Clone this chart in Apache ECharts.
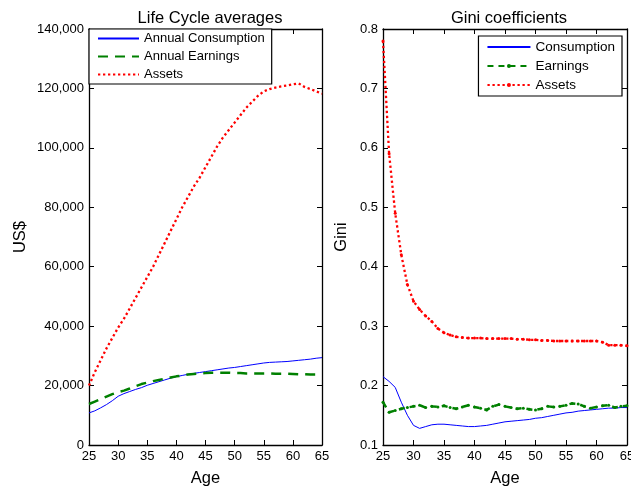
<!DOCTYPE html>
<html><head><meta charset="utf-8">
<script src="https://cdn.jsdelivr.net/npm/echarts@6/dist/echarts.min.js"></script>
<style>html,body{margin:0;padding:0;background:#fff}#c{width:631px;height:486px}</style>
</head><body><div id="c"></div>
<script>
const ages = [25,26,27,28,29,30,31,32,33,34,35,36,37,38,39,40,41,42,43,44,45,46,47,48,49,50,51,52,53,54,55,56,57,58,59,60,61,62,63,64,65];
const consumption = [10800,11500,12500,13600,14900,16400,17300,18000,18700,19300,20100,20700,21300,21900,22500,23000,23400,23800,24100,24400,24700,25000,25300,25600,25900,26100,26400,26700,27000,27300,27600,27800,27900,28000,28100,28300,28500,28700,28900,29200,29400];
const earnings = [13800,14600,15400,16300,17100,17800,18300,19000,19800,20500,21000,21500,21900,22300,22700,23100,23400,23700,23900,24100,24200,24300,24300,24300,24300,24200,24200,24100,24100,24100,24100,24100,24000,24000,24000,23900,23800,23800,23700,23700,23600];
const assets = [20000,24500,28500,32500,36000,39500,42500,46000,49500,53000,56500,60000,64000,68000,72000,76000,80000,83500,87000,90000,93500,97000,100500,103500,106000,108500,111000,113500,115500,117500,119000,119800,120300,120700,121000,121400,121700,120500,119800,119000,118200];
const giniConsumption = [0.215,0.207,0.197,0.172,0.150,0.133,0.128,0.131,0.134,0.135,0.135,0.134,0.133,0.132,0.131,0.131,0.132,0.133,0.135,0.137,0.139,0.140,0.141,0.142,0.143,0.145,0.146,0.148,0.150,0.152,0.154,0.155,0.157,0.158,0.159,0.160,0.161,0.162,0.162,0.163,0.163];
const giniEarnings = [0.172,0.155,0.158,0.161,0.163,0.165,0.167,0.163,0.165,0.164,0.166,0.163,0.161,0.164,0.167,0.164,0.162,0.159,0.165,0.168,0.165,0.163,0.161,0.162,0.160,0.159,0.161,0.165,0.164,0.165,0.167,0.170,0.169,0.165,0.162,0.164,0.166,0.167,0.163,0.165,0.166];
const giniAssets = [0.78,0.59,0.49,0.42,0.37,0.342,0.328,0.317,0.308,0.296,0.289,0.285,0.282,0.281,0.280,0.280,0.280,0.279,0.279,0.279,0.279,0.279,0.278,0.278,0.277,0.277,0.276,0.276,0.275,0.275,0.275,0.275,0.275,0.275,0.275,0.275,0.273,0.268,0.268,0.268,0.267];
const leftNames = ['Annual Consumption','Annual Earnings','Assets'];
const rightNames = ['Consumption','Earnings','Assets '];
const pair = (a) => ages.map((x,i)=>[x,a[i]]);

const FONT = 'Liberation Sans';
const txt = {color:'#000', fontFamily:FONT, fontSize:13};
function xAx(grid, show){
  return {type:'value', gridIndex:grid, min:25, max:65, interval:5, position: show?'bottom':'top',
    axisLine:{show:true,onZero:false,lineStyle:{color:'#000',width:1.3}},
    axisTick:{show:true,inside:true,length:5,lineStyle:{color:'#000'}},
    axisLabel:{show:show, ...txt, margin:5},
    splitLine:{show:false},
    name: show?'Age':'', nameLocation:'middle', nameGap:25, nameTextStyle:{...txt, fontSize:16.5}};
}
function yAx(grid, show, min, max, interval, fmt, name, gap){
  return {type:'value', gridIndex:grid, min:min, max:max, interval:interval, position: show?'left':'right',
    axisLine:{show:true,onZero:false,lineStyle:{color:'#000',width:1.3}},
    axisTick:{show:true,inside:true,length:5,lineStyle:{color:'#000'}},
    axisLabel:{show:show, ...txt, margin:5, formatter:fmt},
    splitLine:{show:false},
    name: show?name:'', nameLocation:'middle', nameGap:gap, nameRotate:90, nameTextStyle:{...txt, fontSize:16.5}};
}
const fmtK = v => v===0 ? '0' : v.toLocaleString('en-US');
const fmtG = v => v.toFixed(1);
const noSym = {opacity:0};

const option = {
  backgroundColor:'#fff',
  animation:false,
  title:[
    {text:'Life Cycle averages', left:205, top:5, textAlign:'center', textStyle:{...txt, fontSize:16.5, fontWeight:'normal'}},
    {text:'Gini coefficients', left:504, top:5, textAlign:'center', textStyle:{...txt, fontSize:16.5, fontWeight:'normal'}}
  ],
  grid:[
    {left:89, right:309, top:29, bottom:41, outerBoundsMode:'none', containLabel:false},
    {left:383, right:4, top:29, bottom:41, outerBoundsMode:'none', containLabel:false}
  ],
  legend:[
    {data:leftNames.map(n=>({name:n, itemStyle:noSym})), left:89, top:29, orient:'vertical', itemGap:5, itemWidth:41, itemHeight:10,
      padding:[3,7,3,8], borderColor:'#000', borderWidth:1.2, backgroundColor:'#fff', borderRadius:0,
      textStyle:{...txt, fontSize:13}},
    {data:[{name:rightNames[0], itemStyle:noSym},{name:rightNames[1]},{name:rightNames[2]}], right:9, top:36, orient:'vertical', itemGap:5, itemWidth:43, itemHeight:5,
      padding:[4,7,4,8], borderColor:'#000', borderWidth:1.2, backgroundColor:'#fff', borderRadius:0,
      textStyle:{...txt, fontSize:13.5}}
  ],
  xAxis:[xAx(0,true), xAx(0,false), xAx(1,true), xAx(1,false)],
  yAxis:[
    yAx(0,true,0,140000,20000,fmtK,'US$',60),
    yAx(0,false,0,140000,20000,fmtK,'',0),
    yAx(1,true,0.1,0.8,0.1,fmtG,'Gini',33),
    yAx(1,false,0.1,0.8,0.1,fmtG,'',0)
  ],
  series:[
    {name:leftNames[0], type:'line', xAxisIndex:0, yAxisIndex:0, data:pair(consumption), symbol:'none',
      lineStyle:{color:'#0000ff', width:1}, itemStyle:{color:'#0000ff'}},
    {name:leftNames[1], type:'line', xAxisIndex:0, yAxisIndex:0, data:pair(earnings), symbol:'none',
      lineStyle:{color:'#008000', width:2.5, type:[10,7]}, itemStyle:{color:'#008000'}},
    {name:leftNames[2], type:'line', xAxisIndex:0, yAxisIndex:0, data:pair(assets), symbol:'none',
      lineStyle:{color:'#ff0000', width:2.3, type:[2.3,2.7]}, itemStyle:{color:'#ff0000'}},
    {name:rightNames[0], type:'line', xAxisIndex:2, yAxisIndex:2, data:pair(giniConsumption), symbol:'none',
      lineStyle:{color:'#0000ff', width:1}, itemStyle:{color:'#0000ff'}},
    {name:rightNames[1], type:'line', xAxisIndex:2, yAxisIndex:2, data:pair(giniEarnings), symbol:'circle', symbolSize:3,
      lineStyle:{color:'#008000', width:2.5, type:[6,5]}, itemStyle:{color:'#008000'}},
    {name:rightNames[2], type:'line', xAxisIndex:2, yAxisIndex:2, data:pair(giniAssets), symbol:'circle', symbolSize:3,
      lineStyle:{color:'#ff0000', width:2.3, type:[2.3,2.7]}, itemStyle:{color:'#ff0000'}}
  ]
};
const chart = echarts.init(document.getElementById('c'), null, {renderer:'canvas'});
chart.setOption(option);
</script></body></html>
